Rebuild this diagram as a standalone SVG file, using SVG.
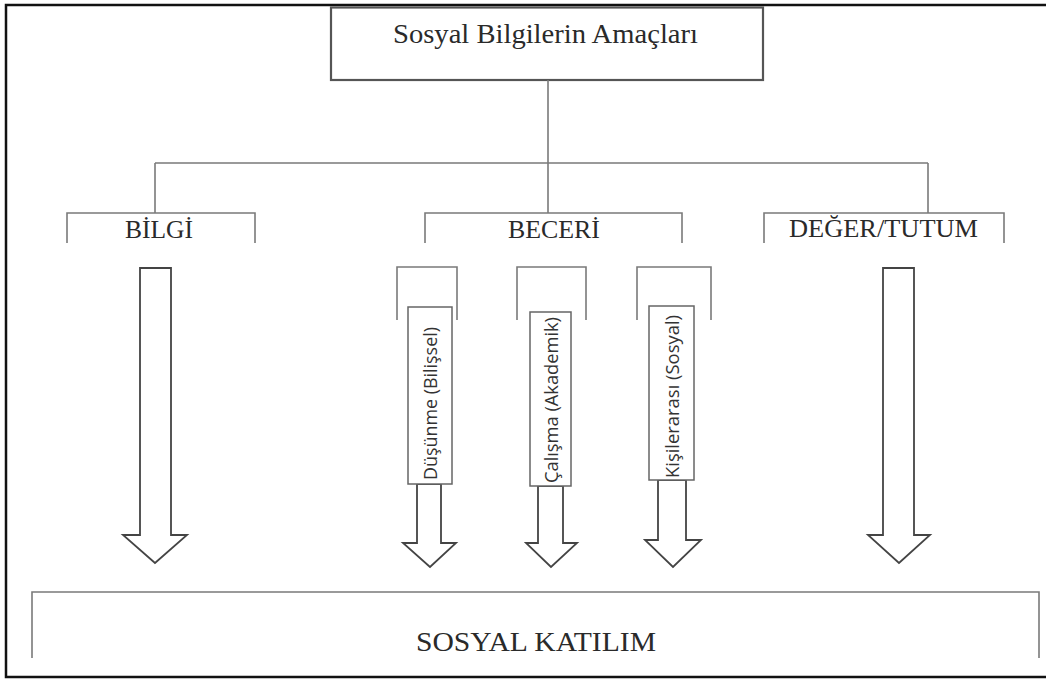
<svg xmlns="http://www.w3.org/2000/svg" width="1046" height="680" viewBox="0 0 1046 680">
<defs>
<style>
.serif{font-family:"Liberation Serif","Times New Roman",serif;fill:#2a2a2a}
.sans{font-family:"Open Sans","Noto Sans","DejaVu Sans",sans-serif;fill:#333}
.conn{fill:none;stroke:#7a7a7a;stroke-width:1.6}
.arrow{fill:#fff;stroke:#444;stroke-width:1.8;stroke-linejoin:miter}
.tbox{fill:#fff;stroke:#666;stroke-width:1.5}
</style>
</defs>
<rect width="1046" height="680" fill="#fff"/>
<path d="M1050,5 H6 V677 H1050" fill="none" stroke="#111" stroke-width="2.5"/>

<g id="root">
<rect x="331" y="7.5" width="432" height="72.5" fill="#fff" stroke="#555" stroke-width="2.2"/>
<text class="serif" x="393" y="43" font-size="27" textLength="305" lengthAdjust="spacingAndGlyphs">Sosyal Bilgilerin Amaçları</text>
</g>

<g id="connectors">
<path class="conn" d="M548,80 V213 M155,163 H928 M155,163 V213 M928,163 V213"/>
</g>

<g id="bilgi">
<path class="conn" d="M67,243 V213 H255 V243"/>
<text class="serif" x="125" y="238" font-size="25" textLength="68" lengthAdjust="spacingAndGlyphs">BİLGİ</text>
<polygon class="arrow" points="140,268 171,268 171,535 187,535 155,563 123,535 140,535"/>
</g>

<g id="beceri">
<path class="conn" d="M425,243 V213 H682 V243"/>
<text class="serif" x="508" y="238" font-size="25" textLength="92" lengthAdjust="spacingAndGlyphs">BECERİ</text>
</g>

<g id="deger">
<path class="conn" d="M764,243 V213 H1004 V243"/>
<text class="serif" x="789" y="237" font-size="25" textLength="189" lengthAdjust="spacingAndGlyphs">DEĞER/TUTUM</text>
<polygon class="arrow" points="883,268 914,268 914,535 930,535 899,563 868,535 883,535"/>
</g>

<g id="dusunme">
<path class="conn" d="M397,320 V267 H457 V320"/>
<polygon class="arrow" points="417,484 441,484 441,543 456,543 430,567 403,543 417,543"/>
<rect class="tbox" x="408" y="307" width="44" height="177"/>
<text class="sans" transform="translate(437,480) rotate(-90)" font-size="18.5" textLength="153" lengthAdjust="spacingAndGlyphs">Düşünme (Bilişsel)</text>
</g>

<g id="calisma">
<path class="conn" d="M517,320 V267 H586 V320"/>
<polygon class="arrow" points="538,486 563,486 563,543 577,543 551,567 526,543 538,543"/>
<rect class="tbox" x="530" y="312" width="41" height="174"/>
<text class="sans" transform="translate(558,483) rotate(-90)" font-size="18.5" textLength="166" lengthAdjust="spacingAndGlyphs">Çalışma (Akademik)</text>
</g>

<g id="kisilerarasi">
<path class="conn" d="M637,320 V267 H711 V320"/>
<polygon class="arrow" points="658,480 686,480 686,540 701,540 673,567 645,540 658,540"/>
<rect class="tbox" x="649" y="306" width="45" height="174"/>
<text class="sans" transform="translate(679,478) rotate(-90)" font-size="18.5" textLength="163" lengthAdjust="spacingAndGlyphs">Kişilerarası (Sosyal)</text>
</g>

<g id="katilim">
<path class="conn" d="M32,658 V592 H1039 V658"/>
<text class="serif" x="416" y="651" font-size="27" textLength="240" lengthAdjust="spacingAndGlyphs">SOSYAL KATILIM</text>
</g>
</svg>
